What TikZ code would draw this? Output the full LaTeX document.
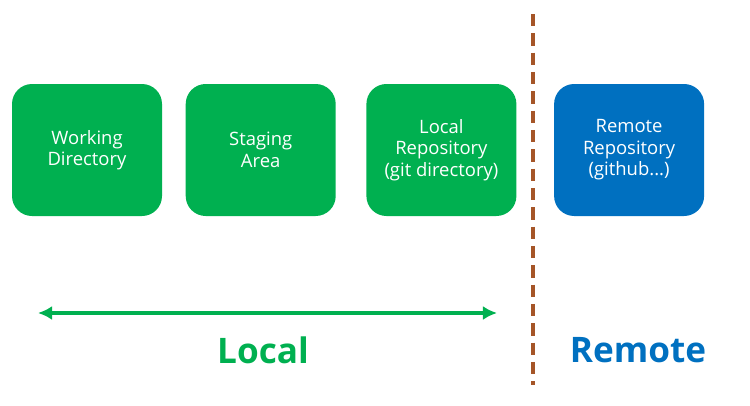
\documentclass[tikz,border=0pt]{standalone}
\usepackage{fontspec}
\setmainfont{Open Sans}
\usepackage{xcolor}
\usetikzlibrary{arrows.meta,positioning}
\definecolor{localgreen}{RGB}{0,176,80}
\definecolor{remoteblue}{RGB}{0,112,192}
\definecolor{splitbrown}{RGB}{165,85,40}

\begin{document}
\begin{tikzpicture}[>=Latex,
  area/.style={rounded corners=0.4cm,minimum width=3.0cm,minimum height=2.64cm,align=center,text=white,font=\fontsize{10.5}{12.2}\selectfont},
  zonelabel/.style={font=\fontsize{20}{24}\selectfont\bfseries}]
\useasboundingbox (0,0) rectangle (15,8.1);
\node[area,fill=localgreen] (wd) at (1.74,5.1) {Working\\Directory};
\node[area,fill=localgreen,right=0.46cm of wd] (stage) {Staging\\Area};
\node[area,fill=localgreen,right=0.6cm of stage] (repo) {Local\\Repository\\(git directory)};
\node[area,fill=remoteblue,right=0.74cm of repo] (remote) {Remote\\Repository\\(github...)};
% local / remote split
\coordinate (splittop) at (10.66,7.82);
\coordinate (splitbot) at (10.66,0.4);
\draw[splitbrown,line width=2pt,dash pattern=on 7pt off 4pt] (splittop) -- (splitbot);
\coordinate (spanl) at (0.76,1.84);
\coordinate (spanr) at (9.94,1.84);
\draw[<->,localgreen,line width=2.2pt,>={Latex[length=8pt,width=8pt]}] (spanl) -- (spanr);
\node[zonelabel,text=localgreen] (localtxt) at (5.26,1.1) {Local};
\node[zonelabel,text=remoteblue] (remotetxt) at (12.76,1.1) {Remote};
\end{tikzpicture}
\end{document}
